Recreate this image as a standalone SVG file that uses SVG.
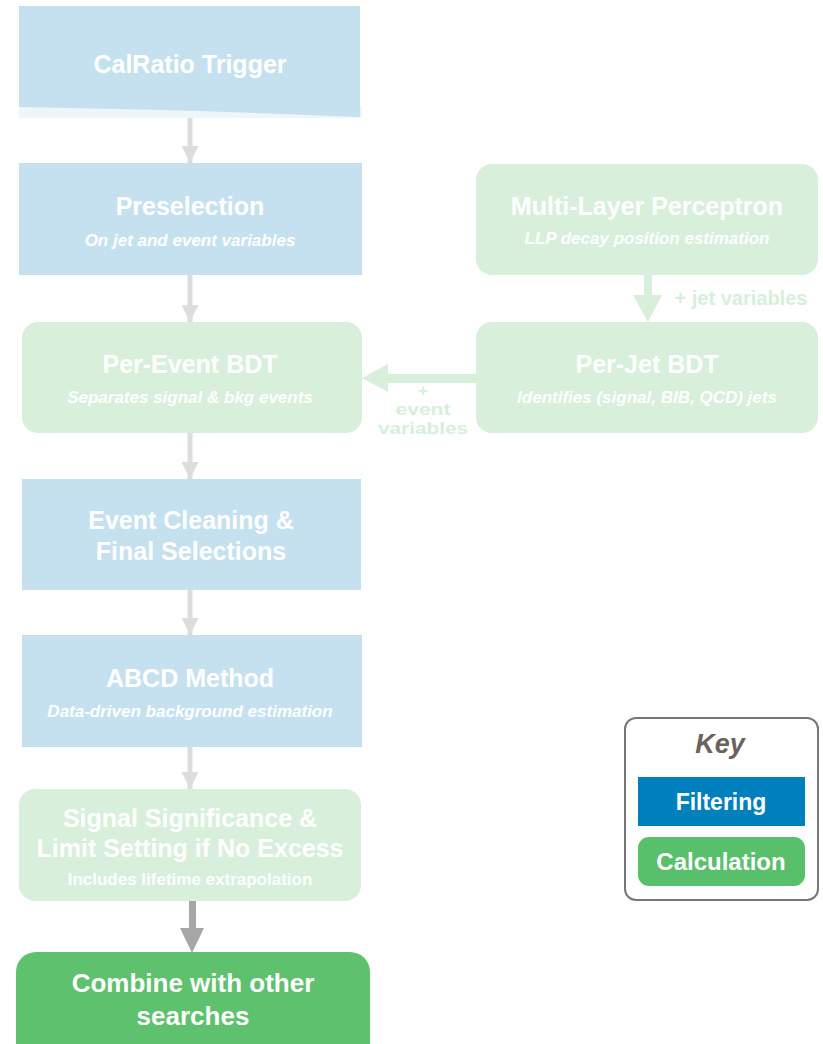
<svg xmlns="http://www.w3.org/2000/svg" width="823" height="1044" viewBox="0 0 823 1044">
<style>
text{font-family:"Liberation Sans",Arial,sans-serif;font-weight:bold;text-anchor:middle;fill:#ffffff}
.t{font-size:25px}
.s{font-size:17px;font-style:italic}
.n{font-size:17px}
.blue{fill:#c5e1ef}
.green{fill:#d7efdb}
.lbl{fill:#d7efdb;font-size:20px}
.lbs{fill:#d7efdb;font-size:16.5px}
.ga{stroke:#dddddd;stroke-width:5;fill:none}
</style>
<defs>
<marker id="ah" viewBox="0 0 10 10" refX="10" refY="5" markerWidth="17" markerHeight="17" markerUnits="userSpaceOnUse" orient="auto">
<path d="M0,0 L10,5 L0,10 z" fill="#dddddd"/>
</marker>
</defs>
<rect width="823" height="1044" fill="#ffffff"/>
<g id="connectors">
<line class="ga" x1="190" y1="118" x2="190" y2="163" marker-end="url(#ah)"/>
<line class="ga" x1="190" y1="275" x2="190" y2="322" marker-end="url(#ah)"/>
<line class="ga" x1="190" y1="433" x2="190" y2="479" marker-end="url(#ah)"/>
<line class="ga" x1="190" y1="590" x2="190" y2="635" marker-end="url(#ah)"/>
<line class="ga" x1="190" y1="747" x2="190" y2="789" marker-end="url(#ah)"/>
<rect x="644" y="275" width="8" height="21" fill="#d7efdb"/>
<path d="M633,295 L662,295 L648,322 z" fill="#d7efdb"/>
<text class="lbl" x="741" y="305">+ jet variables</text>
<rect x="387" y="374" width="89" height="9" fill="#d7efdb"/>
<path d="M388,364 L388,392 L362,378 z" fill="#d7efdb"/>
<text class="lbs" x="423" y="396">+</text>
<text class="lbs" x="423" y="415" textLength="55" lengthAdjust="spacingAndGlyphs">event</text>
<text class="lbs" x="423" y="434" textLength="90" lengthAdjust="spacingAndGlyphs">variables</text>
<rect x="189" y="900" width="7" height="29" fill="#a6a6a6"/>
<path d="M180,928 L204,928 L192,953 z" fill="#a6a6a6"/>
</g>
<g id="calratio">
<rect x="19" y="106" width="343" height="12" fill="#eef6fa"/>
<path d="M19,6 L360,6 L360,117 Q200,110 19,107 z" class="blue"/>
<text class="t" x="190" y="73">CalRatio Trigger</text>
</g>
<g id="preselection">
<rect x="19" y="163" width="343" height="112" class="blue"/>
<text class="t" x="190" y="215">Preselection</text>
<text class="s" x="190" y="246">On jet and event variables</text>
</g>
<g id="mlp">
<rect x="476" y="164" width="342" height="111" rx="16" class="green"/>
<text class="t" x="647" y="215">Multi-Layer Perceptron</text>
<text class="s" x="647" y="244">LLP decay position estimation</text>
</g>
<g id="perjet">
<rect x="476" y="322" width="342" height="111" rx="16" class="green"/>
<text class="t" x="647" y="373">Per-Jet BDT</text>
<text class="s" x="647" y="403">Identifies (signal, BIB, QCD) jets</text>
</g>
<g id="perevent">
<rect x="22" y="322" width="340" height="111" rx="16" class="green"/>
<text class="t" x="190" y="373">Per-Event BDT</text>
<text class="s" x="190" y="403">Separates signal &amp; bkg events</text>
</g>
<g id="cleaning">
<rect x="22" y="479" width="339" height="111" class="blue"/>
<text class="t" x="191" y="529">Event Cleaning &amp;</text>
<text class="t" x="191" y="560">Final Selections</text>
</g>
<g id="abcd">
<rect x="22" y="635" width="340" height="112" class="blue"/>
<text class="t" x="190" y="687">ABCD Method</text>
<text class="s" x="190" y="717">Data-driven background estimation</text>
</g>
<g id="significance">
<rect x="19" y="789" width="342" height="112" rx="16" class="green"/>
<text class="t" x="190" y="827">Signal Significance &amp;</text>
<text class="t" x="190" y="857">Limit Setting if No Excess</text>
<text class="n" x="190" y="885">Includes lifetime extrapolation</text>
</g>
<g id="combine">
<rect x="16" y="952" width="354" height="110" rx="20" fill="#5ec16e"/>
<text class="t" x="193" y="992" style="font-size:26px">Combine with other</text>
<text class="t" x="193" y="1025" style="font-size:26px">searches</text>
</g>
<g id="key">
<rect x="625" y="718" width="193" height="182" rx="11" fill="#ffffff" stroke="#777777" stroke-width="2"/>
<text x="720" y="753" style="font-size:27px;font-style:italic;fill:#6b625d">Key</text>
<rect x="638" y="777" width="167" height="49" fill="#0080bd"/>
<text x="721" y="810" style="font-size:23px">Filtering</text>
<rect x="638" y="837" width="167" height="49" rx="11" fill="#58bf6a"/>
<text x="721" y="870" style="font-size:24px">Calculation</text>
</g>
</svg>
